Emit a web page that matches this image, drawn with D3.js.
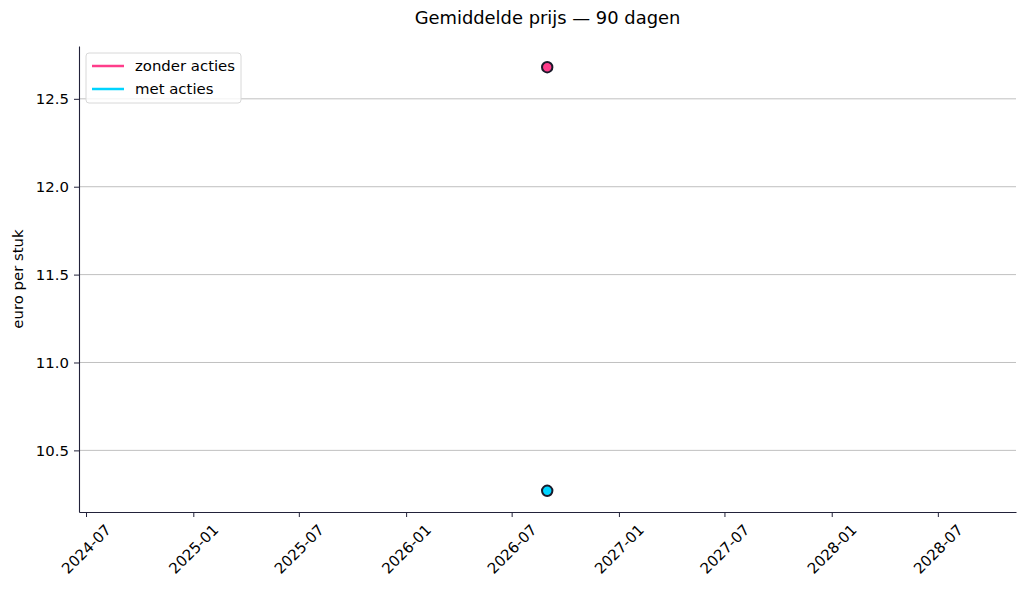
<!DOCTYPE html>
<html>
<head>
<meta charset="utf-8">
<script src="https://cdn.jsdelivr.net/npm/d3@7"></script>
<style>
  body { margin: 0; background: #fff; }
  text { font-family: "DejaVu Sans", sans-serif; fill: #000; }
</style>
</head>
<body>
<div id="chart"></div>
<script>
// data
var seriesNames = ["zonder acties", "met acties"];
var seriesColors = ["#ff3d8b", "#00d4ff"];
var dates = ["2026-08-31"];
var zonderActies = [12.68];
var metActies = [10.27];
var yTicks = [10.5, 11.0, 11.5, 12.0, 12.5];
var title = "Gemiddelde prijs \u2014 90 dagen";
var yLabel = "euro per stuk";

var W = 1026, H = 590,
    margin = { top: 46, right: 10, bottom: 78, left: 79 },
    width = W - margin.left - margin.right,
    height = H - margin.top - margin.bottom,
    fs = 14.9;

var parseDate = d3.timeParse("%Y-%m-%d"),
    fmt = d3.timeFormat("%Y-%m");

var pts = dates.map(parseDate);
var series = [zonderActies, metActies].map(function(vals, i) {
  return { name: seriesNames[i], color: seriesColors[i],
           values: vals.map(function(v, j) { return { date: pts[j], value: v }; }) };
});

// single date: widen by 2 years each side, then 5% margin (like matplotlib)
var x0 = d3.timeYear.offset(pts[0], -2), x1 = d3.timeYear.offset(pts[0], 2);
var span = x1 - x0;
var x = d3.scaleTime()
    .domain([new Date(+x0 - span * 0.05), new Date(+x1 + span * 0.05)])
    .range([0, width]);

var all = zonderActies.concat(metActies);
var lo = d3.min(all), hi = d3.max(all), pad = (hi - lo) * 0.05;
var y = d3.scaleLinear()
    .domain([lo - pad, hi + pad])
    .range([height, 0]);

var svg = d3.select("#chart").append("svg")
    .attr("width", W).attr("height", H)
  .append("g")
    .attr("transform", "translate(" + margin.left + "," + margin.top + ")");

// grid
svg.append("g").selectAll("line")
    .data(yTicks)
  .enter().append("line")
    .attr("x1", 0).attr("x2", width)
    .attr("y1", function(d) { return y(d); })
    .attr("y2", function(d) { return y(d); })
    .attr("stroke", "#b0b0b0").attr("stroke-width", 0.8);

// y axis
var yAxis = svg.append("g")
    .call(d3.axisLeft(y).tickValues(yTicks).tickFormat(d3.format(".1f"))
      .tickSize(5).tickSizeOuter(0).tickPadding(5));
yAxis.select(".domain").attr("stroke", "#22223a").attr("stroke-width", 1.1);
yAxis.selectAll(".tick line").attr("stroke", "#22223a");
yAxis.selectAll("text").style("font-size", fs + "px").style("font-family", "DejaVu Sans");

// x axis
var xTickVals = d3.timeMonth.every(6).range(x.domain()[0], x.domain()[1]);
var xAxis = svg.append("g")
    .attr("transform", "translate(0," + height + ")")
    .call(d3.axisBottom(x).tickValues(xTickVals).tickFormat(fmt).tickSize(5).tickSizeOuter(0));
xAxis.select(".domain").attr("stroke", "#22223a").attr("stroke-width", 1.1);
xAxis.selectAll(".tick line").attr("stroke", "#22223a");
xAxis.selectAll(".tick text")
    .style("font-size", fs + "px").style("font-family", "DejaVu Sans")
    .attr("dy", null).attr("y", null)
    .attr("text-anchor", "middle").attr("dominant-baseline", "central")
    .each(function() {
      var w = this.getComputedTextLength(), h = fs;
      var bh = (w + h) * Math.SQRT1_2;
      d3.select(this).attr("transform", "translate(0," + (10 + bh / 2) + ") rotate(-45)");
    });

// lines + points
var line = d3.line()
    .x(function(d) { return x(d.date); })
    .y(function(d) { return y(d.value); });

series.forEach(function(s) {
  svg.append("path")
      .datum(s.values)
      .attr("fill", "none")
      .attr("stroke", s.color)
      .attr("stroke-width", 2.5)
      .attr("d", line);
  svg.selectAll(null)
      .data(s.values)
    .enter().append("circle")
      .attr("cx", function(d) { return x(d.date); })
      .attr("cy", function(d) { return y(d.value); })
      .attr("r", 5.2)
      .attr("fill", s.color)
      .attr("stroke", "#1a1a2a")
      .attr("stroke-width", 2);
});

// title
svg.append("text")
    .attr("x", width / 2).attr("y", -22)
    .attr("text-anchor", "middle")
    .style("font-size", "17.9px")
    .text(title);

// y label
svg.append("text")
    .attr("transform", "translate(-56," + (height / 2) + ") rotate(-90)")
    .attr("text-anchor", "middle")
    .style("font-size", fs + "px")
    .text(yLabel);

// legend
var legend = svg.append("g").attr("transform", "translate(7,7)");
legend.append("rect")
    .attr("width", 155).attr("height", 50).attr("rx", 3)
    .attr("fill", "#fff").attr("fill-opacity", 0.8)
    .attr("stroke", "#d8d8d8");
series.forEach(function(s, i) {
  var ly = 13 + i * 23;
  legend.append("line")
      .attr("x1", 6).attr("x2", 38).attr("y1", ly).attr("y2", ly)
      .attr("stroke", s.color).attr("stroke-width", 2.5);
  legend.append("text")
      .attr("x", 49).attr("y", ly + 5)
      .style("font-size", fs + "px")
      .text(s.name);
});
</script>
</body>
</html>
